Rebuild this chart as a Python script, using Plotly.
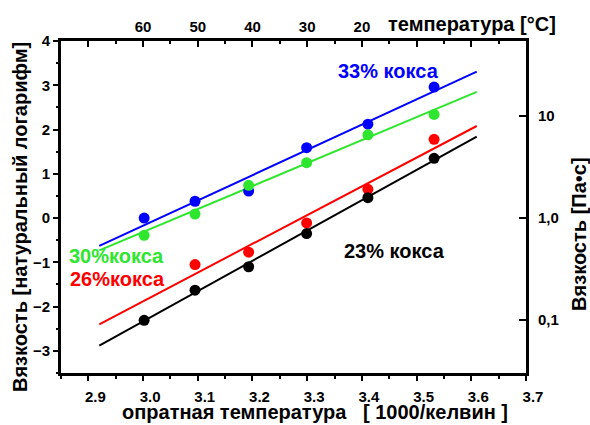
import plotly.graph_objects as go

# 1000/T values of the measured points (60, 50, 40, 30, 20, 10 °C)
inv_temp = [3.002, 3.095, 3.193, 3.299, 3.411, 3.532]
inv_temp_26 = [3.095, 3.193, 3.299, 3.411, 3.532]

coke33 = [0.00, 0.38, 0.61, 1.59, 2.12, 2.96]
coke30 = [-0.39, 0.09, 0.74, 1.25, 1.88, 2.34]
coke26 = [-1.05, -0.77, -0.11, 0.65, 1.78]
coke23 = [-2.31, -1.63, -1.10, -0.35, 0.46, 1.35]

fit_x = [2.92, 3.61]
fit33 = [-0.63, 3.31]
fit30 = [-0.73, 2.85]
fit26 = [-2.40, 2.08]
fit23 = [-2.88, 1.84]

bottom_tick_vals = [2.9, 3.0, 3.1, 3.2, 3.3, 3.4, 3.5, 3.6, 3.7]
top_tick_vals = [2.9, 3.0, 3.1, 3.2, 3.3, 3.4, 3.5, 3.6]
top_tick_text = ["", "60", "50", "40", "30", "20", "", ""]
left_tick_vals = [-3, -2, -1, 0, 1, 2, 3, 4]
right_tick_vals = [-2.303, 0.0, 2.303]
right_tick_text = ["0,1", "1,0", "10"]

BLUE = "#0000ff"
GREEN = "#2ee62e"
RED = "#ff0000"
BLACK = "#000000"
FONT = "Liberation Sans, Arial, sans-serif"

fig = go.Figure()

for ys, c in [(fit33, BLUE), (fit30, GREEN), (fit26, RED), (fit23, BLACK)]:
    fig.add_trace(go.Scatter(x=fit_x, y=ys, mode="lines",
                             line=dict(color=c, width=2), hoverinfo="skip"))

for xs, ys, c in [(inv_temp, coke33, BLUE), (inv_temp, coke30, GREEN),
                  (inv_temp_26, coke26, RED), (inv_temp, coke23, BLACK)]:
    fig.add_trace(go.Scatter(x=xs, y=ys, mode="markers",
                             marker=dict(color=c, size=11, line=dict(width=0))))

# dummy trace to activate top/right axes
fig.add_trace(go.Scatter(x=[3.0], y=[0], xaxis="x2", yaxis="y2", mode="markers",
                         marker=dict(opacity=0), hoverinfo="skip"))

tickfont = dict(family=FONT, size=15, color="black", weight="bold")

fig.update_layout(
    width=590, height=425,
    margin=dict(l=61, r=64, t=41, b=52),
    paper_bgcolor="white", plot_bgcolor="white",
    showlegend=False,
    xaxis=dict(range=[2.85, 3.7], tickvals=bottom_tick_vals,
               tickformat=".1f", ticks="outside", ticklen=5, tickwidth=2,
               tickcolor="black", showline=True, linewidth=3, linecolor="black",
               showgrid=False, zeroline=False, tickfont=tickfont,
               ticklabelshift=7, ticklabelstandoff=3,
               minor=dict(dtick=0.05, tick0=2.85, ticks="outside", ticklen=3,
                          tickwidth=2, tickcolor="black", showgrid=False)),
    xaxis2=dict(range=[2.85, 3.7], overlaying="x", side="top", anchor="y",
                tickvals=top_tick_vals, ticktext=top_tick_text,
                ticks="inside", ticklen=6, tickwidth=2, tickcolor="black",
                showline=True, linewidth=3, linecolor="black",
                showgrid=False, zeroline=False, tickfont=tickfont,
                minor=dict(dtick=0.05, tick0=2.85, ticks="inside", ticklen=3,
                           tickwidth=2, tickcolor="black", showgrid=False)),
    yaxis=dict(range=[-3.5, 4], tickvals=left_tick_vals, ticks="outside",
               ticklen=5, tickwidth=2, tickcolor="black",
               showline=True, linewidth=3, linecolor="black",
               showgrid=False, zeroline=False, tickfont=tickfont,
               minor=dict(dtick=0.5, tick0=-3.5, ticks="outside", ticklen=2,
                          tickwidth=2, tickcolor="black", showgrid=False)),
    yaxis2=dict(range=[-3.5, 4], overlaying="y", side="right", anchor="x",
                tickvals=right_tick_vals, ticktext=right_tick_text,
                ticks="inside", ticklen=7, tickwidth=2, tickcolor="black",
                showline=True, linewidth=3, linecolor="black",
                showgrid=False, zeroline=False, tickfont=tickfont,
                ticklabelstandoff=6),
)


def ann(text, x, y, color="black", xref="paper", yref="paper", angle=0):
    fig.add_annotation(text=text, x=x, y=y, xref=xref, yref=yref,
                       showarrow=False, textangle=angle,
                       xanchor="center", yanchor="middle",
                       font=dict(family=FONT, size=20, color=color, weight="bold"))


ann("опратная температура   [ 1000/келвин ]", 0.546, -0.117)
ann("Вязкость [натуральный логарифм]", -0.088, 0.47, angle=-90)
ann("Вязкость [Па•с]", 1.114, 0.416, angle=-90)
ann("температура [°C]", 0.884, 1.051)

ann("33% кокса", 3.448, 3.32, BLUE, "x", "y")
ann("30%кокса", 2.952, -0.86, GREEN, "x", "y")
ann("26%кокса", 2.954, -1.38, RED, "x", "y")
ann("23% кокса", 3.459, -0.75, BLACK, "x", "y")

fig.write_html(
    "out.html",
    config={"displayModeBar": False},
    post_script="document.body.style.margin='0';document.body.style.overflow='hidden';",
)
